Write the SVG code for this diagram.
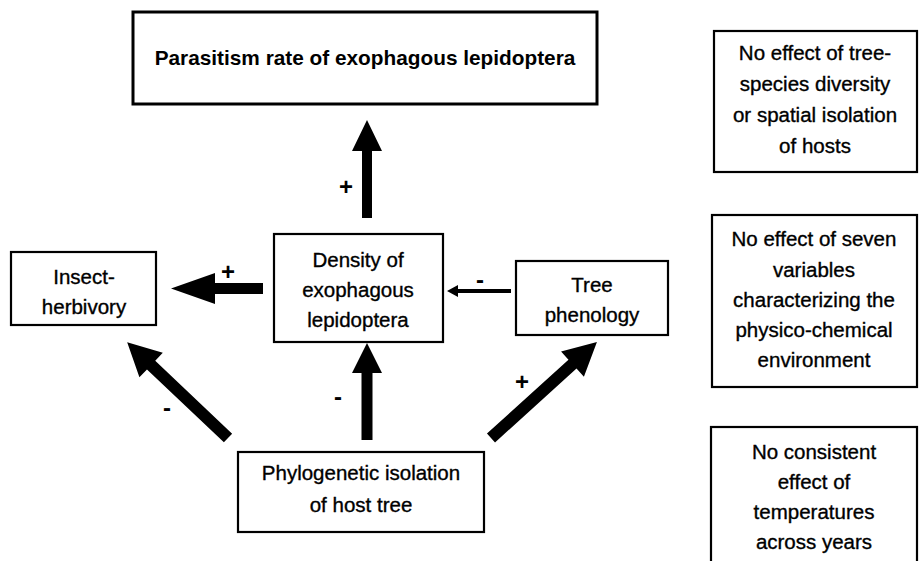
<svg xmlns="http://www.w3.org/2000/svg" width="920" height="561" viewBox="0 0 920 561">
<style>
.box{fill:#fff;stroke:#000;stroke-width:2.2}
.t{font-family:"Liberation Sans",Arial,sans-serif;font-size:20.5px;fill:#000;stroke:#000;stroke-width:0.35;text-anchor:middle}
.title{font-family:"Liberation Sans",Arial,sans-serif;font-size:20.8px;font-weight:bold;fill:#000;text-anchor:middle}
.sign{font-family:"Liberation Sans",Arial,sans-serif;font-size:24px;font-weight:bold;fill:#000;text-anchor:middle}
.arr{fill:#000;stroke:none}
</style>
<rect width="920" height="561" fill="#fff"/>
<g id="parasitism">
<rect class="box" x="133" y="12" width="464" height="92" style="stroke-width:3"/>
<text class="title" x="365" y="65">Parasitism rate of exophagous lepidoptera</text>
</g>
<g id="herbivory">
<rect class="box" x="11" y="252" width="145" height="73"/>
<text class="t" x="84" y="284">Insect-</text>
<text class="t" x="84" y="314">herbivory</text>
</g>
<g id="density">
<rect class="box" x="274" y="234" width="169" height="108"/>
<text class="t" x="358" y="267">Density of</text>
<text class="t" x="358" y="297">exophagous</text>
<text class="t" x="358" y="327">lepidoptera</text>
</g>
<g id="phenology">
<rect class="box" x="516" y="261" width="152" height="74"/>
<text class="t" x="592" y="292">Tree</text>
<text class="t" x="592" y="322">phenology</text>
</g>
<g id="phylogenetic">
<rect class="box" x="238" y="452" width="246" height="80"/>
<text class="t" x="361" y="480">Phylogenetic isolation</text>
<text class="t" x="361" y="512">of host tree</text>
</g>
<g id="note-diversity">
<rect class="box" x="714" y="31" width="203" height="141"/>
<text class="t" x="815" y="60">No effect of tree-</text>
<text class="t" x="815" y="91">species diversity</text>
<text class="t" x="815" y="122">or spatial isolation</text>
<text class="t" x="815" y="153">of hosts</text>
</g>
<g id="note-environment">
<rect class="box" x="712" y="215" width="205" height="172"/>
<text class="t" x="814" y="246">No effect of seven</text>
<text class="t" x="814" y="277">variables</text>
<text class="t" x="814" y="307">characterizing the</text>
<text class="t" x="814" y="337">physico-chemical</text>
<text class="t" x="814" y="367">environment</text>
</g>
<g id="note-temperature">
<rect class="box" x="711" y="427" width="206" height="150"/>
<text class="t" x="814" y="459">No consistent</text>
<text class="t" x="814" y="489">effect of</text>
<text class="t" x="814" y="519">temperatures</text>
<text class="t" x="814" y="549">across years</text>
</g>
<g id="connectors">
<path class="arr" d="M362,218 L362,151 L352,151 L367,120 L382,151 L372,151 L372,218 Z"/>
<path class="arr" d="M361.5,440 L361.5,373 L352,373 L367,343 L382,373 L372.5,373 L372.5,440 Z"/>
<path class="arr" d="M263,283 L215,283 L215,273 L171,288.5 L215,304 L215,294 L263,294 Z"/>
<path class="arr" d="M511,289 L458,289 L458,285 L447,291 L458,297 L458,293 L511,293 Z"/>
<path class="arr" transform="translate(228,438) rotate(-136.5)" d="M0,-6 L106,-6 L106,-17 L139,0 L106,17 L106,6 L0,6 Z"/>
<path class="arr" transform="translate(491,438) rotate(-42.2)" d="M0,-6 L110,-6 L110,-17 L143,0 L110,17 L110,6 L0,6 Z"/>
<text class="sign" x="346" y="195">+</text>
<text class="sign" x="228" y="280">+</text>
<text class="sign" x="480" y="288">-</text>
<text class="sign" x="338" y="405">-</text>
<text class="sign" x="167" y="416">-</text>
<text class="sign" x="522" y="390">+</text>
</g>
</svg>
